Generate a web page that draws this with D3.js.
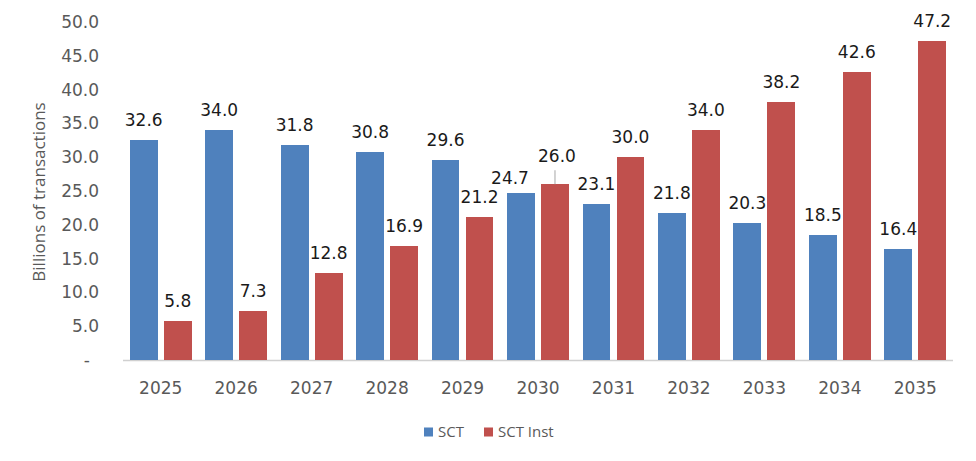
<!DOCTYPE html>
<html>
<head>
<meta charset="utf-8">
<script src="https://cdn.jsdelivr.net/npm/d3@7/dist/d3.min.js"></script>
<style>
  body { margin: 0; background: #fff; }
  svg { display: block; }
</style>
</head>
<body>
<div id="chart"></div>
<script>
// chart data
var years = ["2025", "2026", "2027", "2028", "2029", "2030", "2031", "2032", "2033", "2034", "2035"];
var seriesNames = ["SCT", "SCT Inst"];
var sctValues = [32.6, 34.0, 31.8, 30.8, 29.6, 24.7, 23.1, 21.8, 20.3, 18.5, 16.4];
var sctInstValues = [5.8, 7.3, 12.8, 16.9, 21.2, 26.0, 30.0, 34.0, 38.2, 42.6, 47.2];
var yTicks = [0, 5, 10, 15, 20, 25, 30, 35, 40, 45, 50];

var colors = {"SCT": "#4f81bd", "SCT Inst": "#c0504d"};
var width = 976, height = 461;
var plotLeft = 123, plotRight = 953, plotTop = 22, plotBottom = 360;

// labels Excel moved around to avoid overlap (2030)
var labelNudge = {"SCT|2030": {dx: -11, dy: 5}, "SCT Inst|2030": {dx: 2, dy: -8, leader: true}};

var rows = years.map(function(y, i) {
  return {year: y, values: [
    {name: "SCT", value: sctValues[i]},
    {name: "SCT Inst", value: sctInstValues[i]}
  ]};
});

var svg = d3.select("#chart").append("svg")
  .attr("width", width)
  .attr("height", height);

var x = d3.scaleBand().domain(years).range([plotLeft, plotRight]);
var xSub = d3.scaleBand().domain(seriesNames).range([0, x.bandwidth()])
  .paddingInner(0.18).paddingOuter(0.2);
var y = d3.scaleLinear().domain([0, 50]).range([plotBottom, plotTop]);

// y axis (no line, only labels)
var yAxis = svg.append("g")
  .attr("transform", "translate(" + (plotLeft - 24) + ",0)")
  .call(d3.axisLeft(y).tickValues(yTicks).tickSize(0).tickPadding(0)
    .tickFormat(function(d) { return d === 0 ? "-" : d3.format(".1f")(d); }));
yAxis.select(".domain").remove();
yAxis.selectAll("text")
  .attr("font-family", "DejaVu Sans, Verdana, sans-serif")
  .attr("font-size", 17)
  .attr("fill", "#595959")
  .attr("x", function(d) { return d === 0 ? -9 : 0; });

// baseline
svg.append("line")
  .attr("x1", plotLeft).attr("x2", plotRight)
  .attr("y1", y(0) + 0.5).attr("y2", y(0) + 0.5)
  .attr("stroke", "#d0d0d0")
  .attr("stroke-width", 1.5);

// x axis labels
var xAxis = svg.append("g")
  .attr("transform", "translate(0," + (plotBottom + 22) + ")")
  .call(d3.axisBottom(x).tickSize(0).tickPadding(0));
xAxis.select(".domain").remove();
xAxis.selectAll("text")
  .attr("font-family", "DejaVu Sans, Verdana, sans-serif")
  .attr("font-size", 17)
  .attr("fill", "#595959");

// y title
svg.append("text")
  .attr("transform", "translate(45," + 192 + ") rotate(-90)")
  .attr("text-anchor", "middle")
  .attr("font-family", "Open Sans, sans-serif")
  .attr("font-size", 17)
  .attr("fill", "#595959")
  .text("Billions of transactions");

// bars
var groups = svg.selectAll(".year")
  .data(rows)
  .enter().append("g")
  .attr("class", "year")
  .attr("transform", function(d) { return "translate(" + x(d.year) + ",0)"; });

groups.selectAll("rect")
  .data(function(d) { return d.values; })
  .enter().append("rect")
  .attr("x", function(d) { return xSub(d.name); })
  .attr("y", function(d) { return y(d.value); })
  .attr("width", xSub.bandwidth())
  .attr("height", function(d) { return y(0) - y(d.value); })
  .attr("fill", function(d) { return colors[d.name]; })
  .style("shape-rendering", "crispEdges");

// data labels
groups.each(function(row) {
  var g = d3.select(this);
  row.values.forEach(function(d) {
    var n = labelNudge[d.name + "|" + row.year] || {dx: 0, dy: 0};
    var cx = xSub(d.name) + xSub.bandwidth() / 2;
    var ty = y(d.value) - 14 + n.dy;
    g.append("text")
      .attr("x", cx + n.dx)
      .attr("y", ty)
      .attr("text-anchor", "middle")
      .attr("font-family", "DejaVu Sans, Verdana, sans-serif")
      .attr("font-size", 17)
      .attr("fill", "#1a1a1a")
      .text(d3.format(".1f")(d.value));
    if (n.leader) {
      g.append("line")
        .attr("x1", cx).attr("x2", cx)
        .attr("y1", ty + 8).attr("y2", y(d.value))
        .attr("stroke", "#a6a6a6")
        .attr("stroke-width", 1);
    }
  });
});

// legend
var legend = svg.append("g").attr("transform", "translate(424,432)");
var legendX = [0, 60];
seriesNames.forEach(function(name, i) {
  var item = legend.append("g").attr("transform", "translate(" + legendX[i] + ",0)");
  item.append("rect")
    .attr("x", 0).attr("y", -4.5)
    .attr("width", 9).attr("height", 9)
    .attr("fill", colors[name]);
  item.append("text")
    .attr("x", 14).attr("y", 0)
    .attr("dy", "0.35em")
    .attr("font-family", "Open Sans, sans-serif")
    .attr("font-size", 15)
    .attr("fill", "#595959")
    .text(name);
});
</script>
</body>
</html>
